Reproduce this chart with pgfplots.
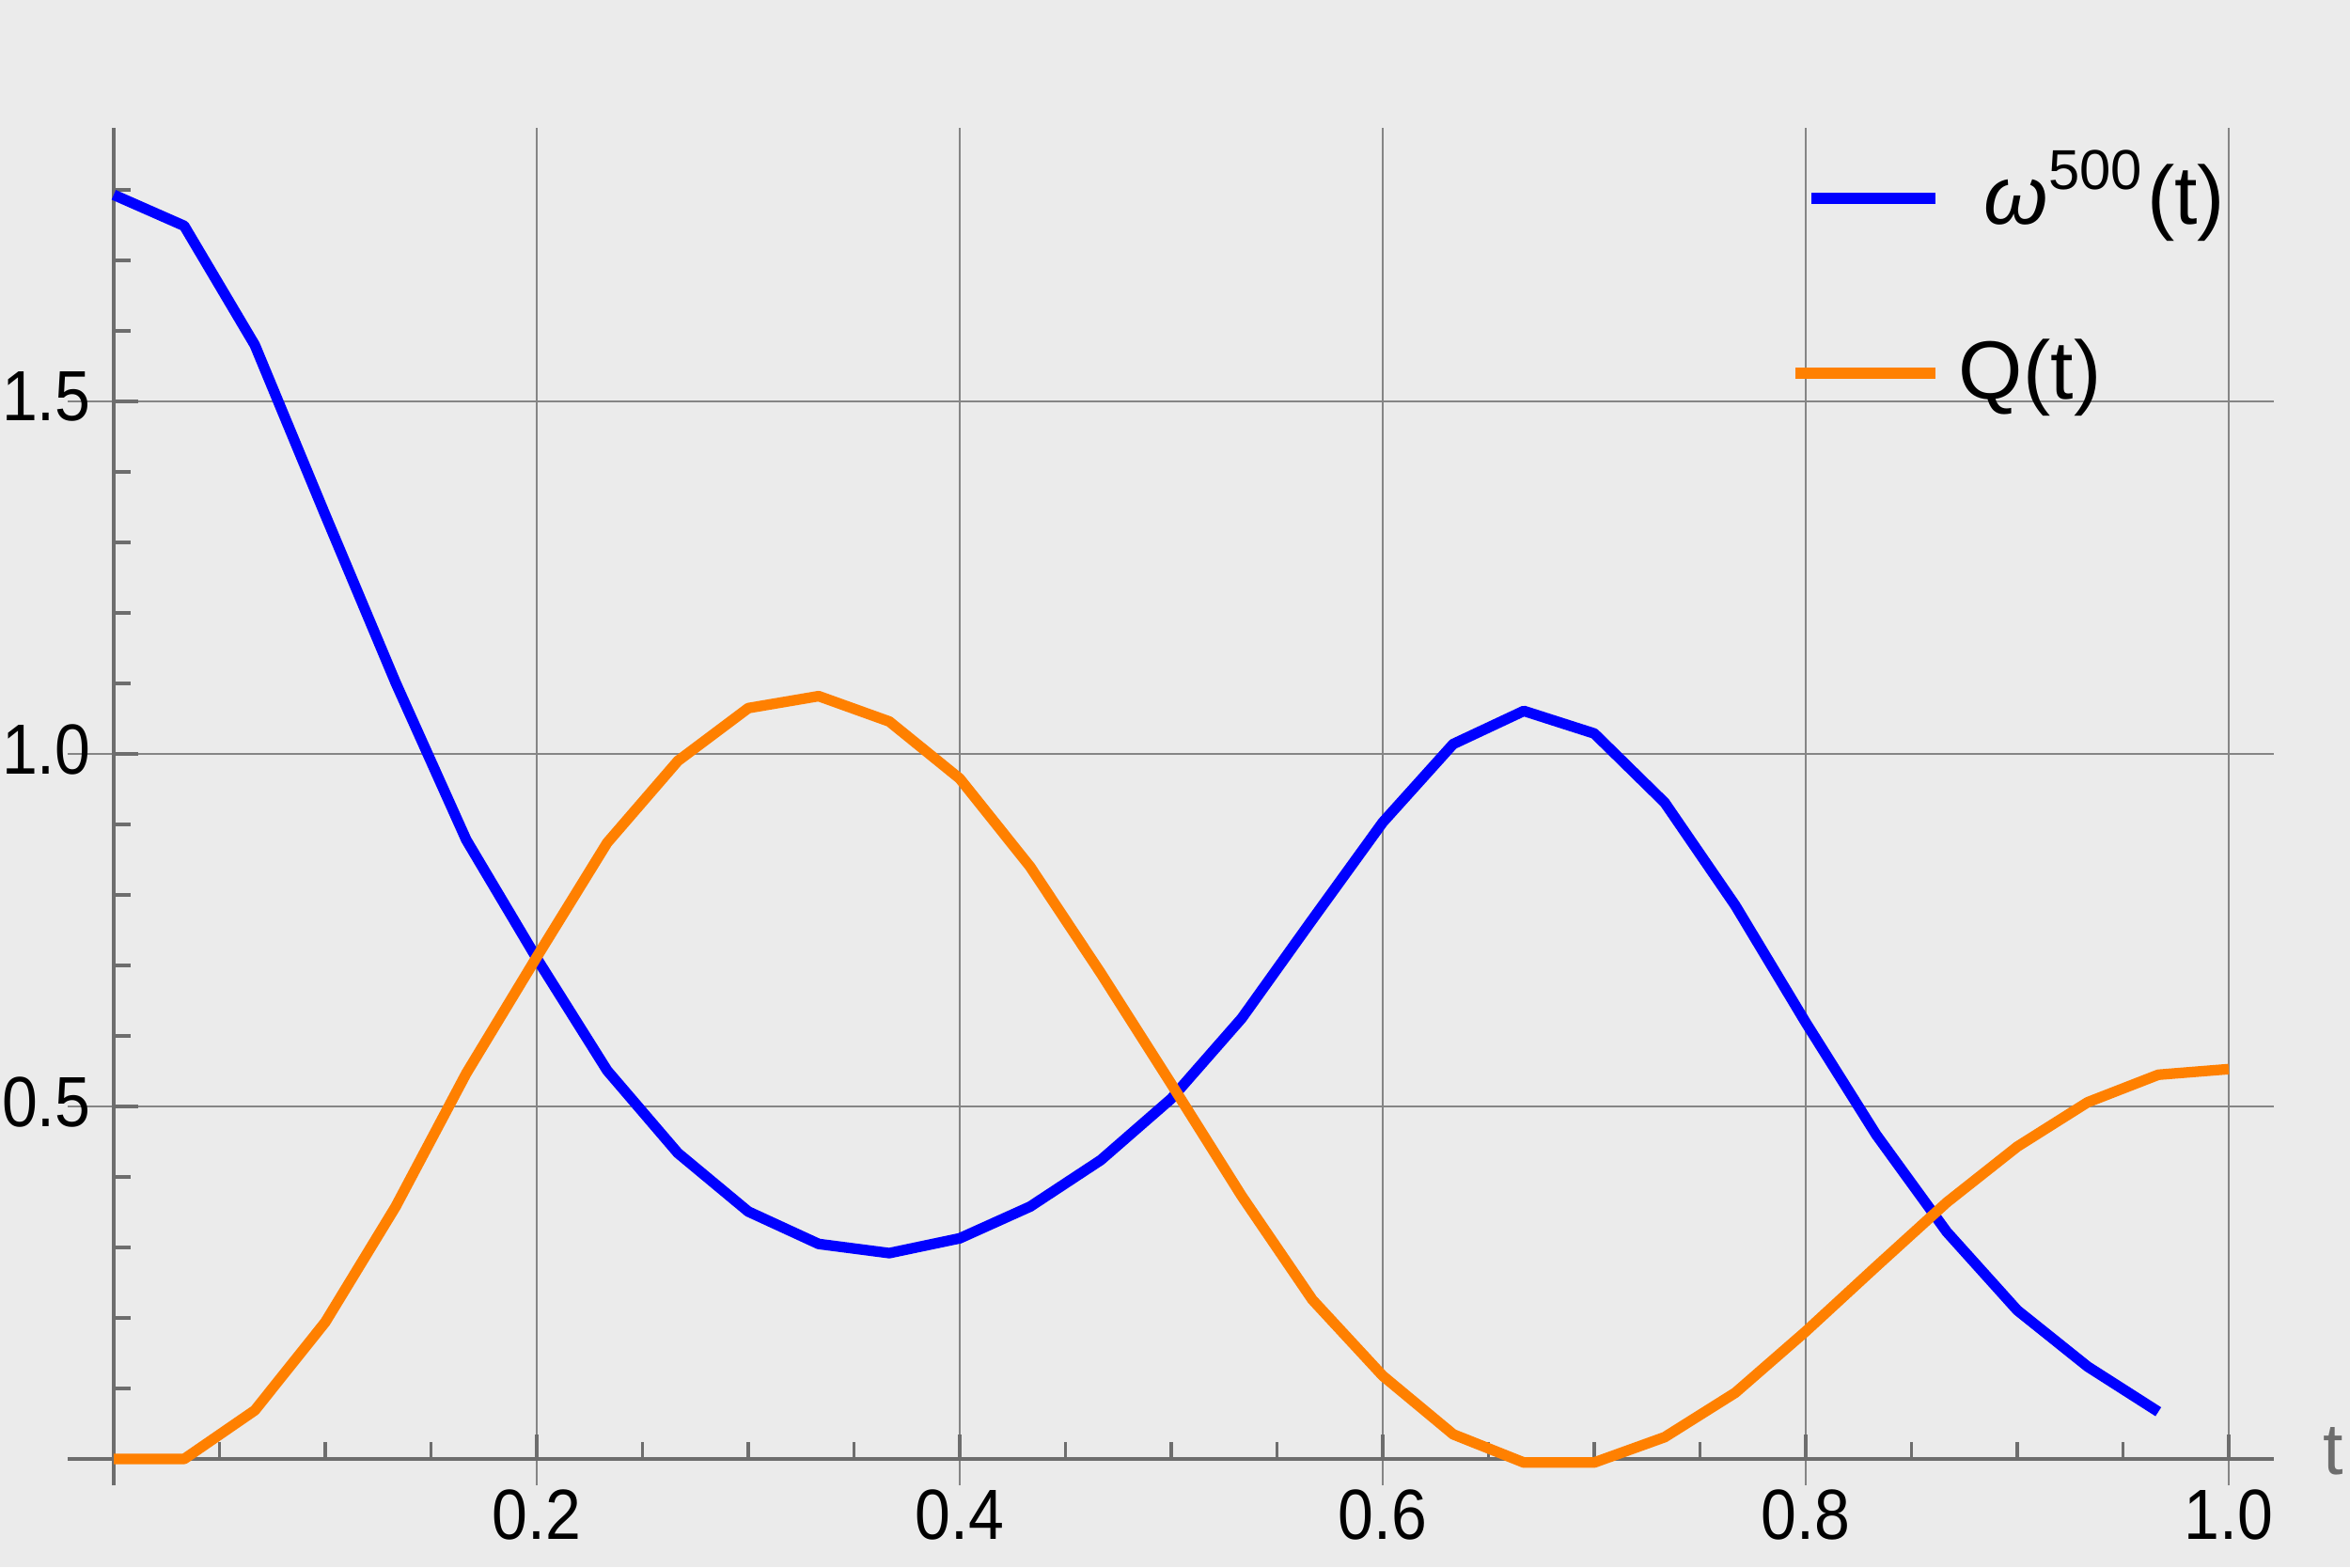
\documentclass[border=0pt]{standalone}
\usepackage{fontspec}
\setmainfont{Liberation Sans}
\newfontfamily\tickfont{Liberation Sans}[FakeStretch=0.9]
\usepackage{pgfplots}
\usepackage{pgfplotstable}
\pgfplotsset{compat=1.18}
\definecolor{bgc}{HTML}{EBEBEB}
\definecolor{axc}{HTML}{6D6D6D}
\definecolor{gridc}{HTML}{858585}
\definecolor{mblue}{HTML}{0000FF}
\definecolor{morange}{HTML}{FF8000}

% omega^500(t), sampled at t = k/30
\pgfplotstableread{
t      w
0.0000 1.793
0.0333 1.749
0.0667 1.580
0.1000 1.339
0.1333 1.101
0.1667 0.878
0.2000 0.710
0.2333 0.551
0.2667 0.434
0.3000 0.351
0.3333 0.305
0.3667 0.292
0.4000 0.313
0.4333 0.358
0.4667 0.424
0.5000 0.511
0.5333 0.625
0.5667 0.765
0.6000 0.903
0.6333 1.014
0.6667 1.061
0.7000 1.029
0.7333 0.931
0.7667 0.785
0.8000 0.619
0.8333 0.460
0.8667 0.322
0.9000 0.211
0.9333 0.131
0.9667 0.067
}\omegadata

% Q(t)
\pgfplotstableread{
t      q
0.0000 0.000
0.0333 0.000
0.0667 0.069
0.1000 0.194
0.1333 0.358
0.1667 0.547
0.2000 0.712
0.2333 0.874
0.2667 0.990
0.3000 1.065
0.3333 1.082
0.3667 1.046
0.4000 0.965
0.4333 0.840
0.4667 0.689
0.5000 0.532
0.5333 0.373
0.5667 0.226
0.6000 0.118
0.6333 0.035
0.6667 -0.005
0.7000 -0.005
0.7333 0.031
0.7667 0.094
0.8000 0.181
0.8333 0.273
0.8667 0.364
0.9000 0.443
0.9333 0.506
0.9667 0.545
1.0000 0.553
}\qdata

\newcommand\lent[1]{\raisebox{0pt}[0.6cm][0pt]{#1}}

% legend sample moved a little to the left, as in the reference
\pgfplotsset{shiftedlegend/.style={legend image code/.code={%
    \path[use as bounding box] (0cm,0cm) -- (1.32cm,0cm);
    \draw[##1, line width=3.4pt] (-0.17cm,0cm) -- (1.15cm,0cm);}}}

\begin{document}
\begin{tikzpicture}
\fill[bgc] (-0.72,-0.87) rectangle (24.28,15.80);
\begin{axis}[
    at={(0,0)}, anchor=south west,
    scale only axis,
    width=23.47cm, height=14.44cm,
    xmin=-0.02178, xmax=1.02133,
    ymin=-0.0373, ymax=1.888,
    axis lines=middle,
    axis line style={-, axc, line width=0.9pt},
    xtick={0.2,0.4,0.6,0.8,1.0},
    ytick={0.5,1.0,1.5},
    minor xtick={0.05,0.1,...,0.95},
    minor ytick={0.1,0.2,...,1.8},
    tick align=inside,
    major tick length=0.26cm,
    minor tick length=0.18cm,
    tick style={axc, line width=0.9pt},
    grid=major,
    major grid style={gridc, line width=0.6pt},
    /pgf/number format/assume math mode=true,
    /pgf/number format/fixed,
    /pgf/number format/fixed zerofill,
    /pgf/number format/precision=1,
    xticklabel style={font=\tickfont\fontsize{21.5}{25}\selectfont, text=black, yshift=-0.2cm},
    yticklabel style={font=\tickfont\fontsize{21.5}{25}\selectfont, text=black, xshift=-0.12cm, yshift=0.05cm},
    xlabel={t},
    xlabel style={at={(axis description cs:1,0.01937)}, anchor=base west,
        xshift=0.4cm, yshift=-0.16cm, text=axc, font=\fontsize{22}{26}\selectfont},
    legend style={at={(axis cs:0.8,1.832)}, anchor=north west,
        draw=none, fill=none, inner sep=0pt, outer sep=0pt,
        row sep=1.21cm, column sep=0.46cm,
        font=\fontsize{25}{29}\selectfont,
        nodes={inner sep=0pt}, cells={anchor=west}},
    legend image code/.code={\draw[#1, line width=3.4pt] (0cm,0cm) -- (1.32cm,0cm);},
]
\addplot[mblue, line width=3.2pt, line join=round] table[x=t, y=w] {\omegadata};
\addlegendentry{\lent{\textit{ω}\raisebox{0.37cm}{\fontsize{17}{20}\selectfont 500}\kern0.05cm(t)}}
\addplot[morange, line width=3.2pt, line join=round, shiftedlegend]
    table[x=t, y=q] {\qdata};
\addlegendentry{\lent{\kern-0.27cm Q(t)}}
\end{axis}
\pgfresetboundingbox
\path (-0.72,-0.87) rectangle (24.28,15.80);
\end{tikzpicture}
\end{document}
